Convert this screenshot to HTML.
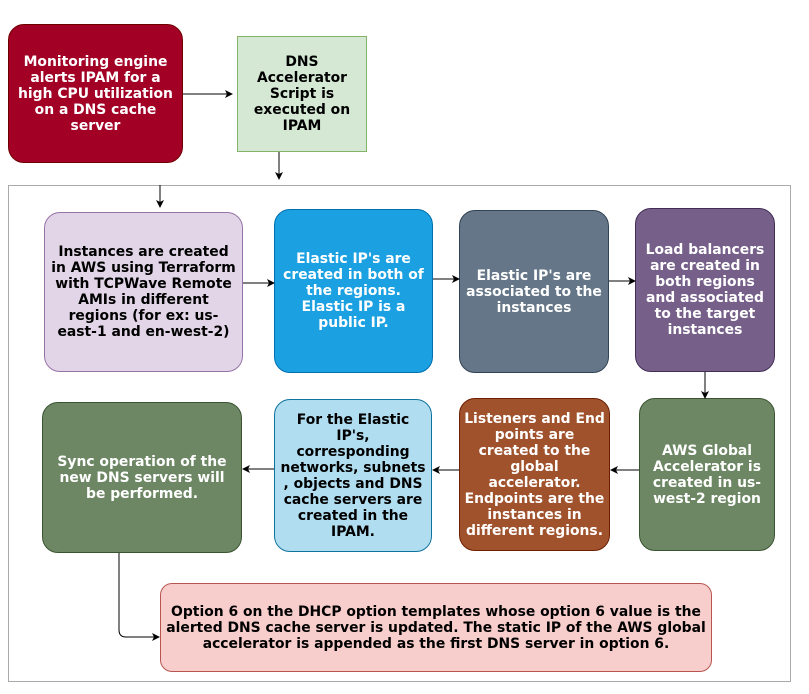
<!DOCTYPE html>
<html><head><meta charset="utf-8"><style>
body{margin:0;width:809px;height:694px;background:#fff;position:relative;overflow:hidden;font-family:"DejaVu Sans","Liberation Sans",sans-serif;font-weight:bold;font-size:13.9px;line-height:16px}
.b{position:absolute;box-sizing:border-box;display:flex;align-items:center;justify-content:center;text-align:center;white-space:nowrap;border:1px solid;border-radius:16px}
svg{position:absolute;left:0;top:0}
</style></head><body>
<div style="position:absolute;left:8px;top:185px;width:783px;height:497px;border:1px solid #aaa;box-sizing:border-box"></div>
<div class="b" style="left:8px;top:24px;width:175px;height:139px;background:#a20025;border-color:#6f0000;color:#fff">Monitoring engine<br>alerts IPAM for a<br>high CPU utilization<br>on a DNS cache<br>server</div>
<div class="b" style="left:237px;top:36px;width:130px;height:116px;background:#d5e8d4;border-color:#82b366;color:#000;border-radius:0">DNS<br>Accelerator<br>Script is<br>executed on<br>IPAM</div>
<div class="b" style="left:44px;top:212px;width:199px;height:160px;background:#e1d5e7;border-color:#9673a6;color:#000">Instances are created<br>in AWS using Terraform<br>with TCPWave Remote<br>AMIs in different<br>regions (for ex: us-<br>east-1 and en-west-2)</div>
<div class="b" style="left:274px;top:209px;width:159px;height:164px;background:#1ba1e2;border-color:#006eaf;color:#fff">Elastic IP's are<br>created in both of<br>the regions.<br>Elastic IP is a<br>public IP.</div>
<div class="b" style="left:459px;top:210px;width:150px;height:163px;background:#647687;border-color:#314354;color:#fff">Elastic IP's are<br>associated to the<br>instances</div>
<div class="b" style="left:635px;top:208px;width:140px;height:164px;background:#76608a;border-color:#432d57;color:#fff">Load balancers<br>are created in<br>both regions<br>and associated<br>to the target<br>instances</div>
<div class="b" style="left:42px;top:402px;width:200px;height:151px;background:#6d8764;border-color:#3a5431;color:#fff">Sync operation of the<br>new DNS servers will<br>be performed.</div>
<div class="b" style="left:274px;top:399px;width:158px;height:153px;background:#b1ddf0;border-color:#10739e;color:#000">For the Elastic<br>IP's,<br>corresponding<br>networks, subnets<br>, objects and DNS<br>cache servers are<br>created in the<br>IPAM.</div>
<div class="b" style="left:459px;top:398px;width:151px;height:153px;background:#a0522d;border-color:#6d1f00;color:#fff">Listeners and End<br>points are<br>created to the<br>global<br>accelerator.<br>Endpoints are the<br>instances in<br>different regions.</div>
<div class="b" style="left:639px;top:398px;width:136px;height:153px;background:#6d8764;border-color:#3a5431;color:#fff">AWS Global<br>Accelerator is<br>created in us-<br>west-2 region</div>
<div class="b" style="left:160px;top:583px;width:552px;height:89px;background:#f8cecc;border-color:#b85450;color:#000;border-radius:12px">Option 6 on the DHCP option templates whose option 6 value is the<br>alerted DNS cache server is updated. The static IP of the AWS global<br>accelerator is appended as the first DNS server in option 6.</div>
<svg width="809" height="694">
<defs><marker id="a" markerWidth="8" markerHeight="8" refX="7" refY="4" orient="auto" markerUnits="userSpaceOnUse"><path d="M0,0 L8,4 L0,8 L2,4Z" fill="#000"/></marker></defs>
<g stroke="#000" stroke-width="1" fill="none" marker-end="url(#a)">
<path d="M183,94 H232"/>
<path d="M279,152 V179"/>
<path d="M160,185 V207"/>
<path d="M243,283 H274"/>
<path d="M433,279 H459"/>
<path d="M609,281 H635"/>
<path d="M705,372 V398"/>
<path d="M639,470 H611"/>
<path d="M459,470 H433"/>
<path d="M274,469 H243"/>
<path d="M119,553 V630 Q119,637 126,637 H159"/>
</g></svg>
</body></html>
